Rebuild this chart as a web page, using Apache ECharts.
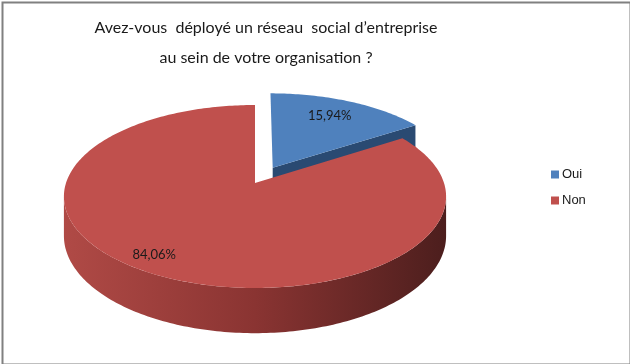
<!DOCTYPE html>
<html>
<head>
<meta charset="utf-8">
<script src="https://cdn.jsdelivr.net/npm/echarts@6/dist/echarts.min.js"></script>
<style>
html,body{margin:0;padding:0;background:#fff;}
#chart{width:630px;height:364px;}
</style>
</head>
<body>
<div id="chart"></div>
<script>
// ---- data ----
const titleLines = ["Avez-vous  déployé un réseau  social d’entreprise", "au sein de votre organisation ?"];
const categories = ["Oui", "Non"];
const values = [15.94, 84.06];
const labels = ["15,94%", "84,06%"];

// ---- style / layout constants ----
const topColors = ["#4F81BD", "#C0504D"];
const sideColors = [["#2E5282", "#2A4A72", "#1F3A5C"], ["#B04A46", "#8A3432", "#4C1E1D"]];
const explode = [0.2, 0];
const labelPos = [[-1, 0.75], [5, 0.86]]; // [angle shift (deg), radius fraction]
const CX = 255, CY = 183, RX = 189, RY = 89.5, D = 6.78, H = 38.5;

const total = values.reduce((a, b) => a + b, 0);
const starts = [];
let acc = 0;
values.forEach(v => { starts.push(acc / total * 360); acc += v; });
const rad = d => d * Math.PI / 180;

function proj(u, v, z) {
  const s = D / (D - v);
  return [CX + RX * u * s, CY + RY * v * s + H * z * s];
}
function sliceGeom(i) {
  const a0 = starts[i], a1 = starts[i] + values[i] / total * 360;
  const mid = rad((a0 + a1) / 2);
  const ou = explode[i] * Math.sin(mid), ov = -explode[i] * Math.cos(mid);
  const pt = (a, r, z) => proj(ou + r * Math.sin(rad(a)), ov - r * Math.cos(rad(a)), z);
  return { a0, a1, ou, ov, pt };
}
function arcPts(g, from, to, z) {
  const n = Math.max(2, Math.ceil(Math.abs(to - from)));
  const pts = [];
  for (let k = 0; k <= n; k++) pts.push(g.pt(from + (to - from) * k / n, 1, z));
  return pts;
}

function renderSlice(i) {
  const g = sliceGeom(i);
  const children = [];
  // radial faces
  [[g.a0, -1], [g.a1, 1]].forEach(([a, sgn]) => {
    const nu = sgn * Math.cos(rad(a)), nv = sgn * Math.sin(rad(a));
    const dot = (0 - g.ou) * nu + (D - g.ov) * nv;
    if (dot > 0.5) {
      children.push({
        type: 'polygon',
        shape: { points: [g.pt(a, 0, 0), g.pt(a, 1, 0), g.pt(a, 1, 1), g.pt(a, 0, 1)] },
        style: { fill: sideColors[i][1] }
      });
    }
  });
  // outer side (visible part)
  const lim = Math.acos(-1 / D) * 180 / Math.PI; // ~98.5
  const vs = Math.max(g.a0, lim), ve = Math.min(g.a1, 360 - lim);
  if (ve > vs) {
    const topArc = arcPts(g, vs, ve, 0);
    const botArc = arcPts(g, vs, ve, 1).reverse();
    children.push({
      type: 'polygon',
      shape: { points: topArc.concat(botArc) },
      style: {
        fill: new echarts.graphic.LinearGradient(0, 0, 1, 0, [
          { offset: 0, color: sideColors[i][0] },
          { offset: 0.5, color: sideColors[i][1] },
          { offset: 1, color: sideColors[i][2] }
        ])
      }
    });
  }
  // top face
  children.push({
    type: 'polygon',
    shape: { points: [g.pt(0, 0, 0)].concat(arcPts(g, g.a0, g.a1, 0)) },
    style: { fill: topColors[i] }
  });
  // label
  const la = (g.a0 + g.a1) / 2 + labelPos[i][0];
  const lp = g.pt(la, labelPos[i][1], 0);
  children.push({
    type: 'text',
    x: lp[0], y: lp[1],
    style: {
      text: labels[i], fill: '#1a1a1a', fontSize: 13,
      fontFamily: 'Lato, "Open Sans", sans-serif',
      align: 'center', verticalAlign: 'middle'
    }
  });
  return { type: 'group', children };
}

// back slices drawn first
const depth = values.map((_, i) => { const g = sliceGeom(i); return -Math.cos(rad((g.a0 + g.a1) / 2)) + g.ov; });

const chart = echarts.init(document.getElementById('chart'), null, { renderer: 'canvas' });
chart.setOption({
  animation: false,
  backgroundColor: '#ffffff',
  title: {
    text: titleLines.join('\n'),
    left: 261, top: 8, textAlign: 'center',
    textStyle: { fontSize: 16, fontWeight: 'normal', color: '#1a1a1a', lineHeight: 30, fontFamily: 'Lato, "Open Sans", sans-serif' }
  },
  legend: {
    data: categories,
    orient: 'vertical',
    left: 546, top: 163,
    itemWidth: 8, itemHeight: 8, itemGap: 13,
    icon: 'rect',
    textStyle: { fontSize: 13, color: '#1a1a1a', fontFamily: '"Liberation Sans", Arial, sans-serif', padding: [0, 0, 0, -2] }
  },
  graphic: [{
    type: 'rect', left: 0, top: 0, z: 100,
    shape: { width: 628, height: 362 },
    style: { fill: 'none', stroke: '#808080', lineWidth: 2 },
    silent: true
  }],
  series: categories.map((name, i) => ({
    type: 'custom',
    name: name,
    coordinateSystem: 'none',
    z: 2 + (depth[i] + 2),
    itemStyle: { color: topColors[i] },
    data: [values[i]],
    renderItem: () => renderSlice(i)
  }))
});
</script>
</body>
</html>
